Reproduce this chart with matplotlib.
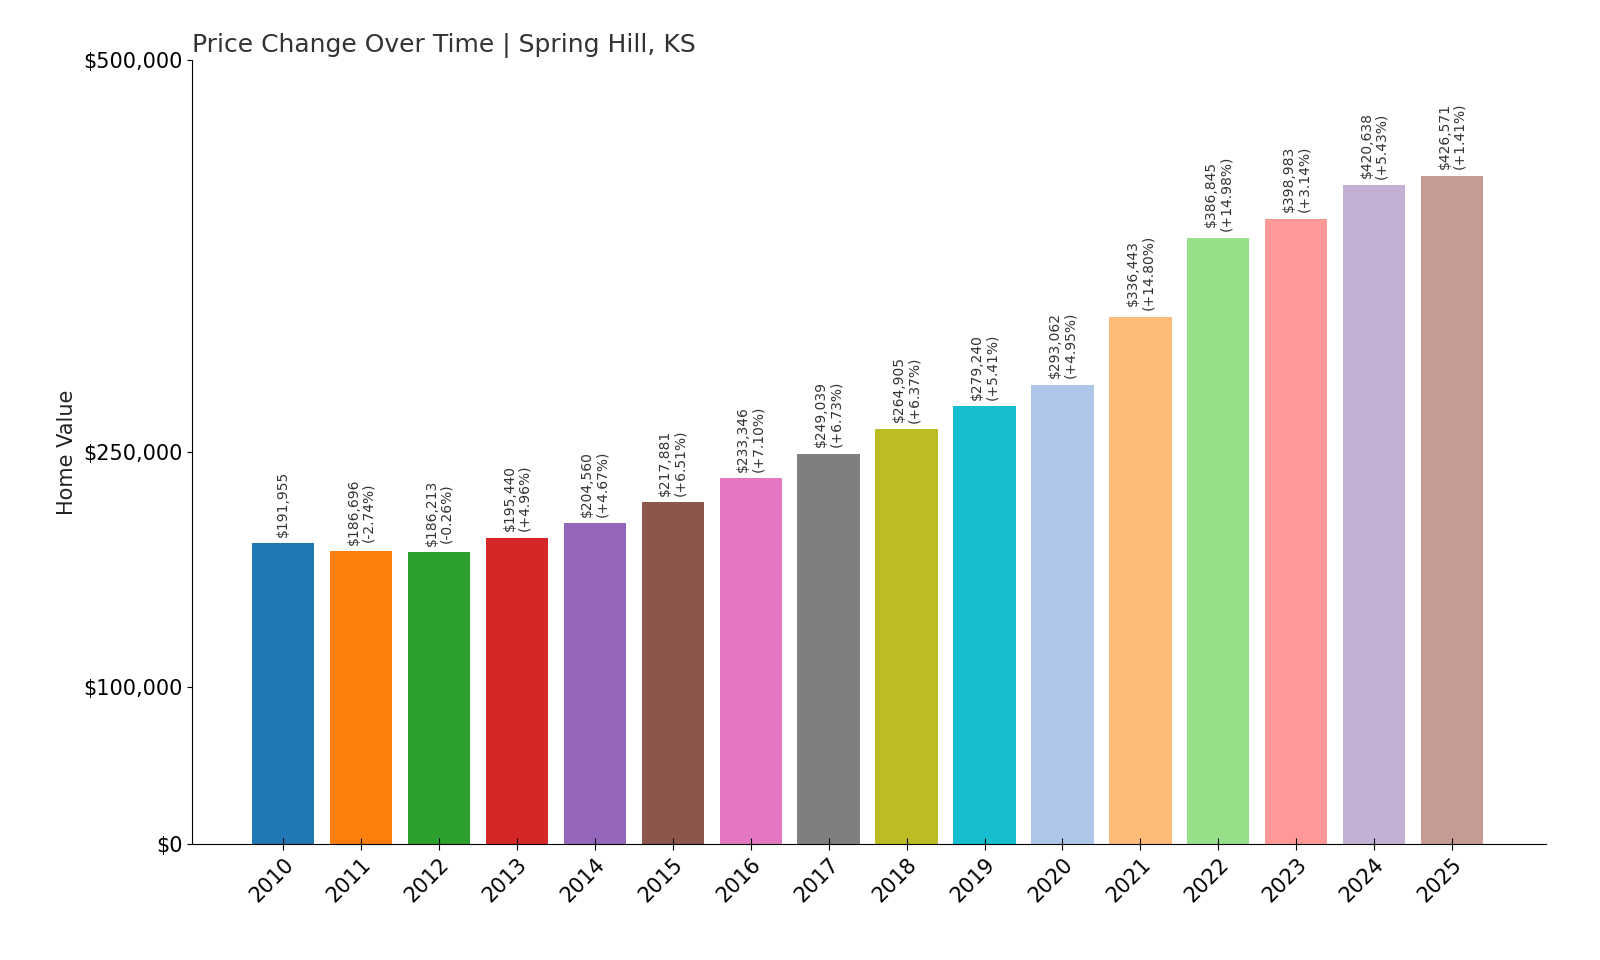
import matplotlib
matplotlib.use("Agg")
import matplotlib.pyplot as plt

years = [str(y) for y in range(2010, 2026)]
values = [191955, 186696, 186213, 195440, 204560, 217881, 233346, 249039,
          264905, 279240, 293062, 336443, 386845, 398983, 420638, 426571]
changes = [None, "-2.74%", "-0.26%", "+4.96%", "+4.67%", "+6.51%", "+7.10%", "+6.73%",
           "+6.37%", "+5.41%", "+4.95%", "+14.80%", "+14.98%", "+3.14%", "+5.43%", "+1.41%"]
colors = ["#1f77b4", "#ff7f0e", "#2ca02c", "#d62728", "#9467bd", "#8c564b", "#e377c2", "#7f7f7f",
          "#bcbd22", "#17becf", "#aec7e8", "#ffbb78", "#98df8a", "#ff9896", "#c5b0d5", "#c49c94"]

fig = plt.figure(figsize=(16, 9.6), dpi=100)
ax = fig.add_axes([0.12, 0.121, 0.846, 0.816])
x = range(len(years))
ax.bar(x, values, color=colors, width=0.8)

for i, v in enumerate(values):
    label = f"${v:,}" if changes[i] is None else f"${v:,}\n({changes[i]})"
    ax.text(i, v + 4000, label, rotation=90, ha="center", va="bottom",
            fontsize=10, color="#333333", linespacing=1.1)

ax.set_ylim(0, 500000)
ax.set_xlim(-1.17, 16.2)
ax.set_yticks([0, 100000, 250000, 500000])
ax.set_yticklabels(["$0", "$100,000", "$250,000", "$500,000"], fontsize=15)
ax.set_xticks(list(x))
ax.set_xticklabels(years, rotation=45, ha="right", rotation_mode="anchor", fontsize=15)
ax.tick_params(axis="x", direction="inout", length=8)
ax.set_ylabel("Home Value", fontsize=15, color="#222222")
ax.set_title("Price Change Over Time | Spring Hill, KS", loc="left", fontsize=18,
             color="#333333", pad=6)
ax.spines["top"].set_visible(False)
ax.spines["right"].set_visible(False)

fig.savefig("out.png")
